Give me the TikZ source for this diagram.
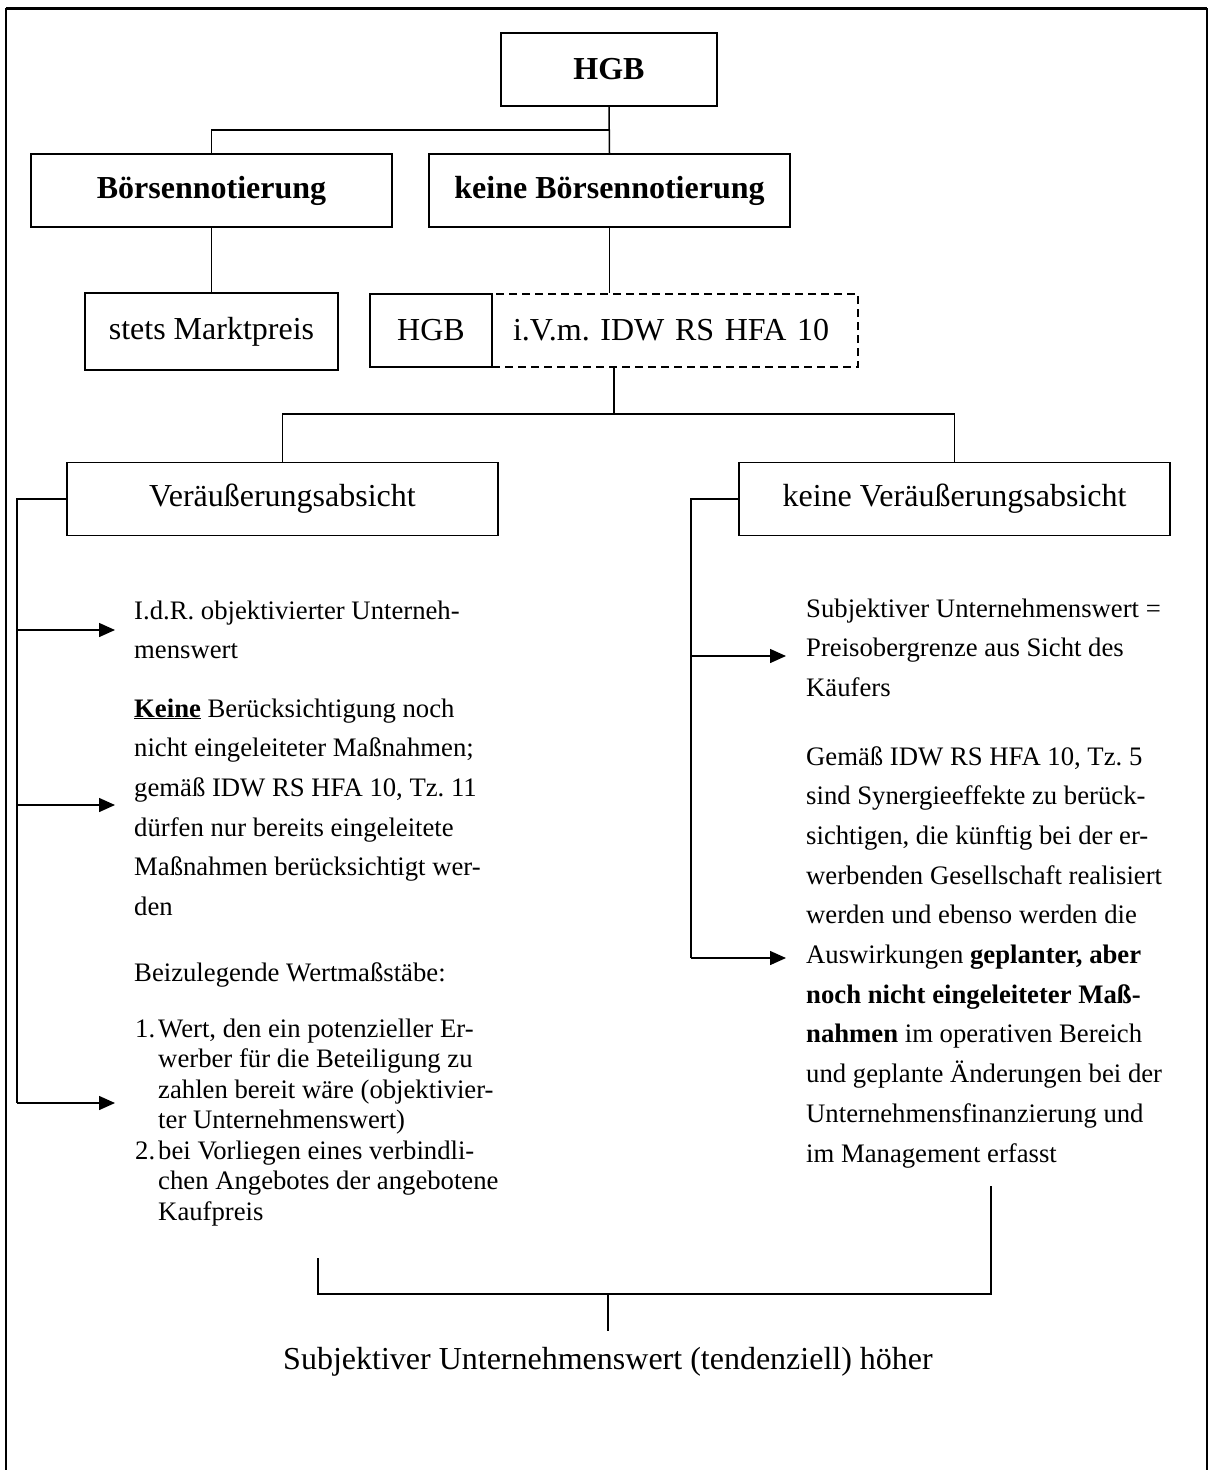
\documentclass[tikz,border=0pt]{standalone}
\usepackage{fontspec}
\setmainfont{Liberation Serif}
\usetikzlibrary{arrows.meta}
\frenchspacing
\newcommand{\grossschrift}{\fontsize{32pt}{38pt}\selectfont}
\newcommand{\fliesstext}{\fontsize{26.7pt}{39.7pt}\selectfont}
\newcommand{\listentext}{\fontsize{26.7pt}{30.5pt}\selectfont}
\tikzset{
  kasten/.style     = {shape=rectangle, draw, line width=1.5pt,
          inner sep=0pt, minimum height=73pt, font=\grossschrift},
  hauptkasten/.style = {kasten, font=\grossschrift\bfseries},
  strichkasten/.style = {kasten, dash pattern=on 8pt off 5pt,
          text width=324pt, align=left, inner xsep=21pt},
  textblock/.style  = {align=left, inner sep=0pt, font=\fliesstext},
  linie/.style      = {line width=1.5pt},
  pfeil/.style      = {line width=1.5pt, -{Triangle[length=16pt,width=14pt]}}
}
\begin{document}
\begin{tikzpicture}
  [
    x = 1pt,
    y = -1pt
  ]
  \useasboundingbox (0,0) rectangle (1209,1470);
  \draw[line width=3pt] (6,8) -- (1207,8);
  \draw[line width=2pt] (6,8) -- (6,1470);
  \draw[line width=2pt] (1207,8) -- (1207,1470);

  \node [hauptkasten, minimum width=216pt] (hgb) at (609,69.5) {HGB};
  \node [hauptkasten, minimum width=361pt] (boerse) at (211.5,190.5) {Börsennotierung};
  \node [hauptkasten, minimum width=361pt] (keine) at (609.5,190.5) {keine Börsennotierung};
  \node [kasten, minimum width=253pt, minimum height=77pt] (markt) at (211.5,331.5) {stets Marktpreis};
  \node [strichkasten] (ivm) at (675,330.5) {i.V.m. IDW RS HFA 10};
  \node [kasten, minimum width=122pt] (hgbklein) at (431,330.5) {HGB};
  \node [kasten, minimum width=431pt] (va) at (282.5,499) {Veräußerungsabsicht};
  \node [kasten, minimum width=431pt] (kva) at (954.5,499) {keine Veräußerungsabsicht};

  \coordinate (v1) at (609,130);
  \coordinate (v2) at (614,414);
  \draw[linie] (hgb.south) -- (keine.north);
  \draw[linie] (v1) -| (boerse.north);
  \draw[linie] (boerse.south) -- (markt.north);
  \draw[linie] (keine.south) -- (keine.south |- ivm.north);
  \draw[linie] (v2 |- ivm.south) -- (v2);
  \draw[linie] (va.north) |- (kva.north |- v2) -- (kva.north);

  % anchor base = baseline of the last line
  \node [textblock, anchor=base west] (p1) at (134,658.7)
    {I.d.R. objektivierter Unterneh-\\menswert};
  \node [textblock, anchor=base west] (p2) at (134,915.5)
    {\underline{\textbf{Keine}} Berücksichtigung noch\\nicht eingeleiteter Maßnahmen;\\gemäß IDW RS HFA 10, Tz. 11\\dürfen nur bereits eingeleitete\\Maßnahmen berücksichtigt wer-\\den};
  \node [textblock, anchor=base west] (p3) at (134,981) {Beizulegende Wertmaßstäbe:};
  \node [inner sep=0pt, font=\listentext, anchor=base west] (liste) at (135,1037)
    {\begin{tabular}[t]{@{}l@{\hspace{3pt}}l@{}}
      1. & Wert, den ein potenzieller Er-\\
         & werber für die Beteiligung zu\\
         & zahlen bereit wäre (objektivier-\\
         & ter Unternehmenswert)\\
      2. & bei Vorliegen eines verbindli-\\
         & chen Angebotes der angebotene\\
         & Kaufpreis
    \end{tabular}};
  \node [textblock, anchor=base west] (r1) at (806,696.4)
    {Subjektiver Unternehmenswert =\\Preisobergrenze aus Sicht des\\Käufers};
  \node [textblock, anchor=base west] (r2) at (806,1162)
    {Gemäß IDW RS HFA 10, Tz. 5\\sind Synergieeffekte zu berück-\\sichtigen, die künftig bei der er-\\werbenden Gesellschaft realisiert\\werden und ebenso werden die\\Auswirkungen \textbf{geplanter, aber}\\\textbf{noch nicht eingeleiteter Maß-}\\\textbf{nahmen} im operativen Bereich\\und geplante Änderungen bei der\\Unternehmensfinanzierung und\\im Management erfasst};

  \coordinate (lu) at (17,1103);
  \coordinate (a1) at (115,630);
  \coordinate (a2) at (115,805);
  \coordinate (a3) at (115,1103);
  \draw[linie] (va.west) -| (lu);
  \draw[pfeil] (lu |- a1) -- (a1);
  \draw[pfeil] (lu |- a2) -- (a2);
  \draw[pfeil] (lu) -- (a3);

  \coordinate (ru) at (691,958);
  \coordinate (b1) at (786,656);
  \coordinate (b2) at (786,958);
  \draw[linie] (kva.west) -| (ru);
  \draw[pfeil] (ru |- b1) -- (b1);
  \draw[pfeil] (ru) -- (b2);

  \node [font=\grossschrift, inner ysep=16pt] (ergebnis) at (608,1362)
    {Subjektiver Unternehmenswert (tendenziell) höher};
  \coordinate (kl) at (318,1258);
  \coordinate (kr) at (991,1186);
  \coordinate (km) at (608,1294);
  \draw[linie] (kl) |- (km) -| (kr);
  \draw[linie] (km) -- (ergebnis.north);
\end{tikzpicture}
\end{document}
